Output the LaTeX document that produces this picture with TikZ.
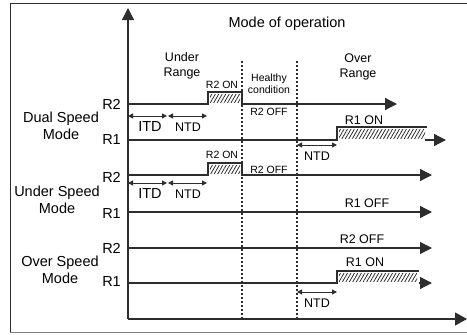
\documentclass[tikz,border=0pt]{standalone}
\usepackage{fontspec}
\setmainfont{Liberation Sans}
\usetikzlibrary{arrows.meta,patterns.meta}
\definecolor{tracegray}{RGB}{45,45,45}

\begin{document}
\begin{tikzpicture}[
    x=1pt, y=-1pt,
    trace/.style={draw=tracegray, line width=1.3pt},
    sig/.style={trace, -{Triangle[length=12pt,width=12pt]}},
    span/.style={draw=tracegray, line width=1pt, {Triangle[length=5pt,width=5pt]}-{Triangle[length=5pt,width=5pt]}},
    boundary/.style={draw=tracegray, line width=1.2pt, dash pattern=on 2pt off 2pt},
    hatch/.style={pattern={Lines[angle=60,distance=3pt,line width=0.8pt]}, pattern color=tracegray},
    bigtxt/.style={font=\fontsize{14.5}{17}\selectfont, align=center, inner sep=0pt},
    midtxt/.style={font=\fontsize{12.5}{14.5}\selectfont, align=center, inner sep=0pt},
    smalltxt/.style={font=\fontsize{10.5}{12}\selectfont, align=center, inner sep=0pt}
]
    \useasboundingbox (0,0) rectangle (467,335);

    % frame
    \draw[tracegray, line width=1pt] (467,3) -- (10,3) -- (10,332);
    \draw[gray, line width=1pt] (10,332) -- (467,332);

    % axes
    \coordinate (origin) at (128,319);
    \coordinate (ytip) at (128,8);
    \coordinate (xtip) at (467,319);
    \draw[sig] (origin) -- (ytip);
    \draw[trace, -{Triangle[length=12pt,width=13pt]}] (origin) -- (xtip);

    % range boundaries
    \coordinate (lowtop) at (242,61);
    \coordinate (lowbot) at (242,319);
    \coordinate (hightop) at (297,61);
    \coordinate (highbot) at (297,319);
    \draw[boundary] (lowtop) -- (lowbot);
    \draw[boundary] (hightop) -- (highbot);

    \node[bigtxt] (title) at (287,24) {Mode of operation};
    \node[midtxt] (underrange) at (182,66) {Under\\Range};
    \node[smalltxt] (healthy) at (269,84) {Healthy\\condition};
    \node[midtxt] (overrange) at (358,67) {Over\\Range};

    % dual speed mode
    \node[bigtxt] (dual) at (61,126) {Dual Speed\\Mode};
    \node[bigtxt, anchor=east] (dualrtwo) at (121,104) {R2};
    \node[bigtxt, anchor=east] (dualrone) at (121,140) {R1};
    \fill[hatch] (210,94) rectangle (240,102);
    \draw[sig] (128,104) -- (208,104) -- (208,92) -- (242,92) -- (242,104) -- (397,104);
    \node[smalltxt] (dualon) at (222,85) {R2 ON};
    \node[smalltxt] (dualoff) at (269,112) {R2 OFF};
    \draw[span] (128,116) -- (167,116);
    \draw[span] (168,116) -- (207,116);
    \node[bigtxt] (dualitd) at (150,127) {ITD};
    \node[midtxt] (dualntd) at (188,127) {NTD};
    \fill[hatch] (339,129) rectangle (425,138);
    \draw[trace] (128,140) -- (337,140) -- (337,127) -- (427,127);
    \draw[sig] (425,140) -- (446,140);
    \node[midtxt] (dualroneon) at (364,120) {R1 ON};
    \draw[span] (297,145) -- (337,145);
    \node[midtxt] (dualntdhigh) at (317,156) {NTD};

    % under speed mode
    \node[bigtxt] (under) at (57,200) {Under Speed\\Mode};
    \node[bigtxt, anchor=east] (underrtwo) at (121,177) {R2};
    \node[bigtxt, anchor=east] (underrone) at (121,214) {R1};
    \fill[hatch] (210,165) rectangle (240,173);
    \draw[sig] (128,175) -- (208,175) -- (208,163) -- (242,163) -- (242,175) -- (432,175);
    \node[smalltxt] (underon) at (222,155) {R2 ON};
    \node[smalltxt] (underoff) at (269,170) {R2 OFF};
    \draw[span] (128,183) -- (167,183);
    \draw[span] (168,183) -- (207,183);
    \node[bigtxt] (underitd) at (150,194) {ITD};
    \node[midtxt] (underntd) at (188,194) {NTD};
    \draw[sig] (128,212) -- (432,212);
    \node[midtxt] (underroneoff) at (367,203) {R1 OFF};

    % over speed mode
    \node[bigtxt] (over) at (60,270) {Over Speed\\Mode};
    \node[bigtxt, anchor=east] (overrtwo) at (121,248) {R2};
    \node[bigtxt, anchor=east] (overrone) at (121,282) {R1};
    \draw[sig] (128,248) -- (432,248);
    \node[midtxt] (overrtwooff) at (362,239) {R2 OFF};
    \fill[hatch] (339,273) rectangle (417,281);
    \draw[trace] (128,283) -- (337,283) -- (337,271) -- (419,271);
    \draw[sig] (419,283) -- (432,283);
    \node[midtxt] (overroneon) at (365,262) {R1 ON};
    \draw[span] (297,292) -- (337,292);
    \node[midtxt] (overntd) at (317,303) {NTD};
\end{tikzpicture}
\end{document}
